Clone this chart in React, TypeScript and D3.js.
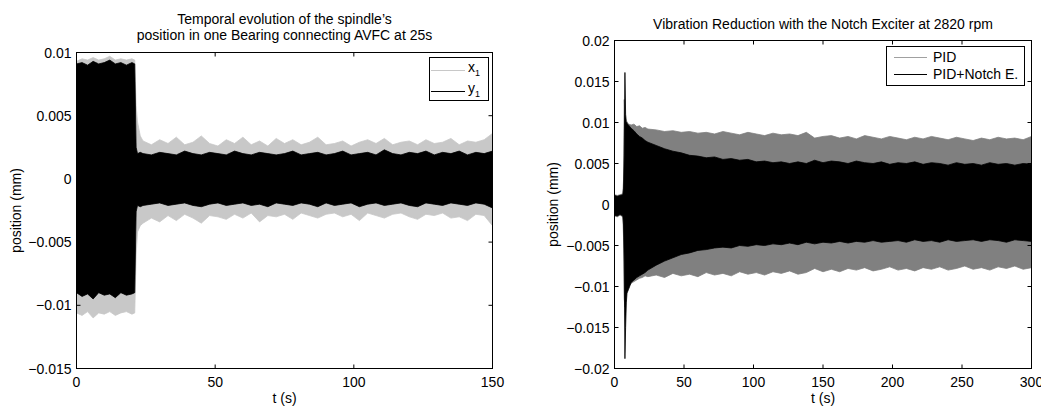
import React from "react";
import * as d3 from "d3";

// ---------- Left panel data (envelopes of the oscillating signals, mm) ----------
const LEFT_T = [0, 2, 4, 6, 8, 10, 12, 14, 16, 18, 20, 21, 21.5, 22, 23,
  24, 27, 30, 33, 36, 39, 42, 45, 48, 51, 54, 57, 60, 63, 66, 69, 72, 75, 78, 81, 84, 87, 90, 93, 96, 99,
  102, 105, 108, 111, 114, 117, 120, 123, 126, 129, 132, 135, 138, 141, 144, 147, 150];

const X1_TOP = [0.0093, 0.0095, 0.0094, 0.0096, 0.0094, 0.0095, 0.0097, 0.0094, 0.0095, 0.0094, 0.0095,
  0.0094, 0.0058, 0.0045, 0.0034,
  0.0030, 0.0027, 0.0031, 0.0028, 0.0033, 0.0027, 0.0029, 0.0034, 0.0028, 0.0026,
  0.0031, 0.0028, 0.0033, 0.0027, 0.0030, 0.0026, 0.0032, 0.0028, 0.0031, 0.0027,
  0.0029, 0.0033, 0.0027, 0.0028, 0.0030, 0.0026, 0.0029, 0.0031, 0.0028, 0.0032,
  0.0027, 0.0029, 0.0030, 0.0027, 0.0031, 0.0028, 0.0029, 0.0032, 0.0027, 0.0030,
  0.0029, 0.0031, 0.0036];
const X1_BOT = [-0.0106, -0.0108, -0.0105, -0.0110, -0.0106, -0.0107, -0.0105, -0.0108, -0.0106, -0.0105, -0.0107,
  -0.0106, -0.0060, -0.0042, -0.0037,
  -0.0035, -0.0031, -0.0034, -0.0029, -0.0033, -0.0028, -0.0031, -0.0035, -0.0029, -0.0030,
  -0.0032, -0.0028, -0.0031, -0.0027, -0.0034, -0.0029, -0.0030, -0.0028, -0.0032, -0.0027,
  -0.0029, -0.0031, -0.0028, -0.0027, -0.0030, -0.0028, -0.0033, -0.0027, -0.0029, -0.0031,
  -0.0028, -0.0027, -0.0030, -0.0032, -0.0028, -0.0029, -0.0027, -0.0031, -0.0030, -0.0033,
  -0.0028, -0.0029, -0.0037];
const Y1_TOP = [0.0091, 0.0092, 0.0090, 0.0093, 0.0091, 0.0092, 0.0094, 0.0091, 0.0092, 0.0090, 0.0092,
  0.0091, 0.0025, 0.0020, 0.0021,
  0.0020, 0.0019, 0.0021, 0.0020, 0.0019, 0.0022, 0.0020, 0.0019, 0.0021, 0.0020,
  0.0019, 0.0022, 0.0020, 0.0019, 0.0021, 0.0020, 0.0019, 0.0020, 0.0022, 0.0019,
  0.0020, 0.0021, 0.0019, 0.0020, 0.0022, 0.0019, 0.0020, 0.0021, 0.0019, 0.0023,
  0.0020, 0.0019, 0.0021, 0.0020, 0.0022, 0.0019, 0.0021, 0.0020, 0.0022, 0.0019,
  0.0021, 0.0020, 0.0022];
const Y1_BOT = [-0.0090, -0.0093, -0.0091, -0.0095, -0.0090, -0.0092, -0.0091, -0.0094, -0.0090, -0.0092, -0.0091,
  -0.0090, -0.0026, -0.0021, -0.0022,
  -0.0021, -0.0020, -0.0019, -0.0021, -0.0020, -0.0019, -0.0021, -0.0022, -0.0020, -0.0019,
  -0.0021, -0.0020, -0.0019, -0.0021, -0.0020, -0.0022, -0.0019, -0.0020, -0.0021, -0.0019,
  -0.0020, -0.0022, -0.0019, -0.0021, -0.0020, -0.0019, -0.0022, -0.0020, -0.0019, -0.0021,
  -0.0020, -0.0019, -0.0021, -0.0022, -0.0019, -0.0020, -0.0021, -0.0019, -0.0020, -0.0021,
  -0.0019, -0.0020, -0.0023];

// ---------- Right panel data ----------
const RIGHT_T = [0, 2, 4, 6, 6.5, 7, 7.5, 8, 8.5, 9, 10, 12, 14, 16, 18, 20, 22,
  24, 30, 36, 42, 48, 54, 60, 66, 72, 78, 84, 90, 96, 102, 108, 114, 120, 126, 132, 138,
  144, 150, 156, 162, 168, 174, 180, 186, 192, 198, 204, 210, 216, 222, 228, 234, 240, 246, 252, 258,
  264, 270, 276, 282, 288, 294, 300];

const PID_TOP = [0.0012, 0.0011, 0.0012, 0.0013, 0.0030, 0.0128, 0.0105, 0.0101, 0.0100, 0.0101, 0.0098, 0.0097, 0.0098, 0.0095, 0.0096, 0.0093, 0.0094,
  0.0092, 0.0091, 0.0089, 0.0090, 0.0088, 0.0089, 0.0087, 0.0088, 0.0086, 0.0089,
  0.0087, 0.0085, 0.0088, 0.0086, 0.0084, 0.0087, 0.0085, 0.0086, 0.0084, 0.0088,
  0.0081, 0.0083, 0.0084, 0.0081, 0.0083, 0.0080, 0.0084, 0.0082, 0.0080, 0.0083,
  0.0081, 0.0079, 0.0082, 0.0080, 0.0083, 0.0081, 0.0079, 0.0082, 0.0080, 0.0078,
  0.0081, 0.0079, 0.0082, 0.0080, 0.0081, 0.0079, 0.0083];
const PID_BOT = [-0.0014, -0.0015, -0.0013, -0.0015, -0.0040, -0.0115, -0.0125, -0.0118, -0.0110, -0.0105, -0.0100, -0.0096, -0.0094, -0.0092, -0.0090, -0.0089, -0.0087,
  -0.0088, -0.0086, -0.0089, -0.0084, -0.0087, -0.0085, -0.0088, -0.0083, -0.0086, -0.0084,
  -0.0087, -0.0082, -0.0085, -0.0083, -0.0086, -0.0082, -0.0084, -0.0081, -0.0085, -0.0083,
  -0.0078, -0.0082, -0.0079, -0.0082, -0.0078, -0.0080, -0.0077, -0.0081, -0.0079, -0.0076,
  -0.0080, -0.0078, -0.0081, -0.0077, -0.0079, -0.0076, -0.0080, -0.0078, -0.0075, -0.0079,
  -0.0077, -0.0080, -0.0076, -0.0078, -0.0075, -0.0079, -0.0077];
const NOTCH_TOP = [0.0011, 0.0010, 0.0011, 0.0012, 0.0020, 0.0060, 0.0161, 0.0110, 0.0101, 0.0099, 0.0097, 0.0093, 0.0090, 0.0086, 0.0083, 0.0081, 0.0078,
  0.0076, 0.0072, 0.0068, 0.0065, 0.0063, 0.0060, 0.0059, 0.0057, 0.0058, 0.0055,
  0.0056, 0.0054, 0.0055, 0.0052, 0.0053, 0.0051, 0.0052, 0.0050, 0.0052, 0.0050,
  0.0054, 0.0051, 0.0053, 0.0052, 0.0050, 0.0053, 0.0051, 0.0050, 0.0052, 0.0049,
  0.0051, 0.0050, 0.0052, 0.0049, 0.0051, 0.0050, 0.0048, 0.0051, 0.0049, 0.0050,
  0.0048, 0.0051, 0.0049, 0.0050, 0.0048, 0.0050, 0.0049];
const NOTCH_BOT = [-0.0013, -0.0014, -0.0012, -0.0014, -0.0025, -0.0070, -0.0188, -0.0150, -0.0120, -0.0108, -0.0104, -0.0095, -0.0092, -0.0089, -0.0087, -0.0085, -0.0083,
  -0.0080, -0.0074, -0.0069, -0.0065, -0.0061, -0.0059, -0.0056, -0.0055, -0.0053, -0.0052,
  -0.0053, -0.0050, -0.0051, -0.0049, -0.0050, -0.0048, -0.0049, -0.0047, -0.0049, -0.0046,
  -0.0048, -0.0046, -0.0047, -0.0045, -0.0047, -0.0045, -0.0046, -0.0044, -0.0046, -0.0045,
  -0.0044, -0.0046, -0.0043, -0.0045, -0.0044, -0.0046, -0.0043, -0.0045, -0.0044, -0.0043,
  -0.0045, -0.0043, -0.0044, -0.0046, -0.0043, -0.0044, -0.0045];

// ---------- Axis ticks ----------
const LEFT_X_TICKS = [0, 50, 100, 150];
const LEFT_Y_TICKS = [-0.015, -0.01, -0.005, 0, 0.005, 0.01];
const RIGHT_X_TICKS = [0, 50, 100, 150, 200, 250, 300];
const RIGHT_Y_TICKS = [-0.02, -0.015, -0.01, -0.005, 0, 0.005, 0.01, 0.015, 0.02];

const FONT = "'Liberation Sans', Arial, Helvetica, sans-serif";
const FS = 14;
const fmt = d3.format("~g");

type Band = { t: number[]; top: number[]; bot: number[]; color: string };

type PanelProps = {
  id: string;
  box: { x0: number; x1: number; y0: number; y1: number };
  xDomain: [number, number];
  yDomain: [number, number];
  xTicks: number[];
  yTicks: number[];
  bands: Band[];
  titleLines: string[];
  titleY: number[];
  ylabelX: number;
  legend: React.ReactNode;
};

function Panel(p: PanelProps) {
  const { box } = p;
  const x = d3.scaleLinear().domain(p.xDomain).range([box.x0, box.x1]);
  const y = d3.scaleLinear().domain(p.yDomain).range([box.y1, box.y0]);
  const tickLen = 4;
  const cx = (box.x0 + box.x1) / 2;
  const cy = (box.y0 + box.y1) / 2;
  return (
    <g>
      <defs>
        <clipPath id={`clip-${p.id}`}>
          <rect x={box.x0} y={box.y0} width={box.x1 - box.x0} height={box.y1 - box.y0} />
        </clipPath>
      </defs>
      <rect x={box.x0} y={box.y0} width={box.x1 - box.x0} height={box.y1 - box.y0} fill="#fff" />
      <g clipPath={`url(#clip-${p.id})`}>
        {p.bands.map((b, k) => {
          const area = d3
            .area<number>()
            .x((i) => x(b.t[i]))
            .y0((i) => y(b.bot[i]))
            .y1((i) => y(b.top[i]));
          const idx = d3.range(b.t.length);
          return <path key={k} d={area(idx) || ""} fill={b.color} stroke={b.color} strokeWidth={0.8} />;
        })}
      </g>
      {/* ticks */}
      {p.xTicks.map((v) => (
        <g key={`xt${v}`}>
          <line x1={x(v)} x2={x(v)} y1={box.y1} y2={box.y1 - tickLen} stroke="#000" />
          <line x1={x(v)} x2={x(v)} y1={box.y0} y2={box.y0 + tickLen} stroke="#000" />
          <text x={x(v)} y={box.y1 + 18} textAnchor="middle" fontFamily={FONT} fontSize={FS} fill="#000">
            {fmt(v)}
          </text>
        </g>
      ))}
      {p.yTicks.map((v) => (
        <g key={`yt${v}`}>
          <line x1={box.x0} x2={box.x0 + tickLen} y1={y(v)} y2={y(v)} stroke="#000" />
          <line x1={box.x1} x2={box.x1 - tickLen} y1={y(v)} y2={y(v)} stroke="#000" />
          <text x={box.x0 - 5} y={y(v) + 5} textAnchor="end" fontFamily={FONT} fontSize={FS} fill="#000">
            {fmt(v)}
          </text>
        </g>
      ))}
      <rect x={box.x0} y={box.y0} width={box.x1 - box.x0} height={box.y1 - box.y0} fill="none" stroke="#000" strokeWidth={1} />
      {/* labels */}
      <text x={cx} y={box.y1 + 34} textAnchor="middle" fontFamily={FONT} fontSize={FS} fill="#000">t (s)</text>
      <text
        transform={`translate(${p.ylabelX},${cy}) rotate(-90)`}
        textAnchor="middle"
        dominantBaseline="middle"
        fontFamily={FONT}
        fontSize={FS}
        fill="#000"
      >
        position (mm)
      </text>
      {p.titleLines.map((s, i) => (
        <text key={i} x={cx} y={p.titleY[i]} textAnchor="middle" fontFamily={FONT} fontSize={FS} fill="#000">
          {s}
        </text>
      ))}
      {p.legend}
    </g>
  );
}

export default function App() {
  const leftBox = { x0: 76.5, x1: 492.5, y0: 52.5, y1: 368.5 };
  const rightBox = { x0: 614.5, x1: 1031.5, y0: 40.5, y1: 368.5 };

  const leftLegend = (
    <g fontFamily={FONT} fontSize={FS}>
      <rect x={429.5} y={57.5} width={59} height={43} fill="#fff" stroke="#000" />
      <line x1={431} x2={465} y1={70.5} y2={70.5} stroke="#c8c8c8" />
      <text x={468} y={72}>x<tspan fontSize={9} dy={4}>1</tspan></text>
      <line x1={431} x2={465} y1={91.5} y2={91.5} stroke="#000" />
      <text x={468} y={93}>y<tspan fontSize={9} dy={4}>1</tspan></text>
    </g>
  );
  const rightLegend = (
    <g fontFamily={FONT} fontSize={FS}>
      <rect x={886.5} y={46.5} width={138} height={39} fill="#fff" stroke="#000" />
      <line x1={894} x2={927} y1={57.5} y2={57.5} stroke="#a0a0a0" />
      <text x={933} y={62}>PID</text>
      <line x1={894} x2={927} y1={74.5} y2={74.5} stroke="#000" />
      <text x={933} y={79}>PID+Notch E.</text>
    </g>
  );

  return (
    <svg width={1041} height={407} style={{ position: "absolute", left: 0, top: 0, background: "#fff" }}>
      <rect x={0} y={0} width={1041} height={407} fill="#fff" />
      <Panel
        id="L"
        box={leftBox}
        xDomain={[0, 150]}
        yDomain={[-0.015, 0.01]}
        xTicks={LEFT_X_TICKS}
        yTicks={LEFT_Y_TICKS}
        bands={[
          { t: LEFT_T, top: X1_TOP, bot: X1_BOT, color: "#c8c8c8" },
          { t: LEFT_T, top: Y1_TOP, bot: Y1_BOT, color: "#000" },
        ]}
        titleLines={["Temporal  evolution of the spindle\u2019s", "position in one Bearing connecting AVFC at 25s"]}
        titleY={[24, 40]}
        ylabelX={17}
        legend={leftLegend}
      />
      <Panel
        id="R"
        box={rightBox}
        xDomain={[0, 300]}
        yDomain={[-0.02, 0.02]}
        xTicks={RIGHT_X_TICKS}
        yTicks={RIGHT_Y_TICKS}
        bands={[
          { t: RIGHT_T, top: PID_TOP, bot: PID_BOT, color: "#808080" },
          { t: RIGHT_T, top: NOTCH_TOP, bot: NOTCH_BOT, color: "#000" },
        ]}
        titleLines={["Vibration Reduction with the Notch Exciter at 2820 rpm"]}
        titleY={[29]}
        ylabelX={554}
        legend={rightLegend}
      />
    </svg>
  );
}
